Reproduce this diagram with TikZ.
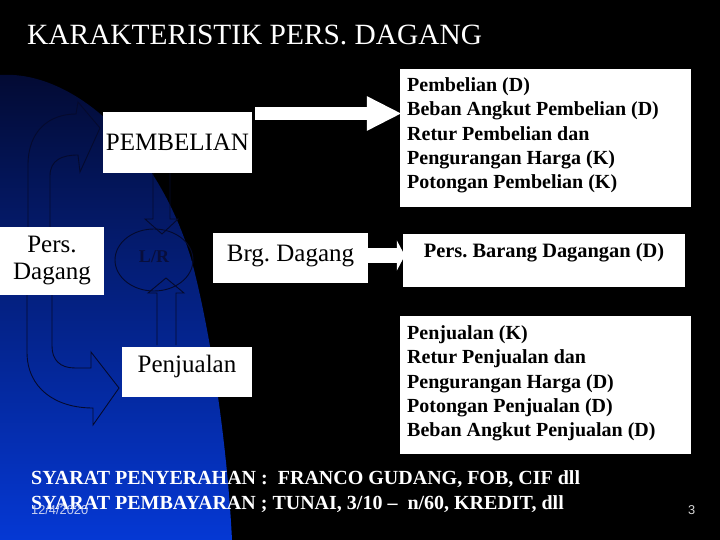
\documentclass[tikz,border=0pt]{standalone}
\usepackage{fontspec}
\setmainfont{Liberation Serif}
\newfontfamily\sansf{Liberation Sans}
\usetikzlibrary{shapes.geometric,arrows.meta,calc}
\definecolor{navyline}{RGB}{5,10,45}
\definecolor{lrtext}{RGB}{8,14,60}
\definecolor{blobtop}{RGB}{3,10,50}
\definecolor{blobmid}{RGB}{12,46,190}
\definecolor{blobbot}{RGB}{5,56,212}
\definecolor{datec}{RGB}{200,208,240}
\definecolor{pagec}{RGB}{215,215,215}
\frenchspacing
\begin{document}
\begin{tikzpicture}[x=1pt,y=-1pt,
  wbox/.style={fill=white, draw=none, inner sep=0pt},
  boxtxt/.style={font=\rmfamily\fontsize{25}{27}\selectfont, text=black},
  listtxt/.style={font=\rmfamily\bfseries\fontsize{20}{24.4}\selectfont, align=left, anchor=north west, inner sep=0pt, text=black},
  blockout/.style={draw=navyline, line width=0.9pt},
  bottxtstyle/.style={anchor=base west, inner sep=0pt, text=white, font=\rmfamily\bfseries\fontsize{20}{24}\selectfont}
]
\useasboundingbox (0,0) rectangle (720,540);
\fill[black] (0,0) rectangle (720,540);
\shade[top color=blobtop, middle color=blobmid, bottom color=blobbot]
  (0,540) -- (0,75) .. controls (75,70) and (160,150) .. (192,262)
  .. controls (210,330) and (227,440) .. (232,540) -- cycle;

% title
\node[anchor=base west, inner sep=0pt, text=white, font=\rmfamily\fontsize{29.4}{32}\selectfont] (title) at (27,45) {KARAKTERISTIK PERS. DAGANG};

% block arrows (outlined)
\draw[blockout] (28,228) -- (28,165) .. controls (28,130) and (50,114) .. (76,114) -- (78,102) -- (100,128) -- (80,172) -- (78,155) .. controls (62,155) and (50,160) .. (50,176) -- (50,228) -- cycle;
\draw[blockout] (27,294) -- (27,352) .. controls (27,388) and (55,408) .. (93,408) -- (93,425) -- (119,388) -- (91,352) -- (91,368) -- (75,368) .. controls (60,368) and (52,360) .. (52,346) -- (52,294) -- cycle;
\draw[blockout] (153,173) -- (153,219) -- (145,219) -- (162,234) -- (178,219) -- (170,219) -- (170,173);
\draw[blockout] (157,345) -- (157,293) -- (148,293) -- (166,278) -- (184,293) -- (176,293) -- (176,345);

% boxes
\node[wbox, boxtxt, minimum width=149pt, minimum height=61pt, text height=17pt, text depth=0pt] (pemb) at (177.5,142.5) {PEMBELIAN};
\node[wbox, boxtxt, minimum width=104pt, minimum height=68pt, align=center] (persd) at (52,261) {Pers.\\Dagang};
\node[wbox, boxtxt, minimum width=155pt, minimum height=50pt, text height=17pt, text depth=11pt] (brg) at (290.5,258) {Brg. Dagang};
\node[wbox, boxtxt, minimum width=130pt, minimum height=50pt, text height=17pt, text depth=17pt] (penj) at (187,372) {Penjualan};
\node[ellipse, draw=navyline, line width=0.9pt, minimum width=78pt, minimum height=62pt, inner sep=0pt,
  font=\rmfamily\bfseries\fontsize{18}{20}\selectfont, text=lrtext, text height=13pt, text depth=9pt] (lr) at (154,260) {L/R};

\node[wbox, minimum width=291pt, minimum height=138pt] (topb) at (545.5,138) {};
\node[listtxt] (toptxt) at (407,77.2) {Pembelian (D)\\Beban Angkut Pembelian (D)\\Retur Pembelian dan\\Pengurangan Harga (K)\\Potongan Pembelian (K)};
\node[wbox, minimum width=282pt, minimum height=53pt, font=\rmfamily\bfseries\fontsize{20.4}{24}\selectfont, text height=13.5pt, text depth=20.5pt] (persb) at (544,260.5) {Pers. Barang Dagangan (D)};
\node[wbox, minimum width=291pt, minimum height=138pt] (botb) at (545.5,385) {};
\node[listtxt] (bottxt) at (407,325.2) {Penjualan (K)\\Retur Penjualan dan\\Pengurangan Harga (D)\\Potongan Penjualan (D)\\Beban Angkut Penjualan (D)};

% white arrows
\draw[white, line width=13pt, -{Triangle[length=35pt,width=32pt]}] ([xshift=3pt]pemb.east |- 0,113.5) -- ([xshift=2pt]topb.west |- 0,113.5);
\draw[white, line width=15pt, -{Triangle[length=8pt,width=30pt]}] (brg.east |- 0,255.5) -- ([xshift=2pt]persb.west |- 0,255.5);

% bottom texts
\node[bottxtstyle] (sy1) at (31,484) {SYARAT PENYERAHAN :\ \ FRANCO GUDANG, FOB, CIF dll};
\node[bottxtstyle] (sy2) at (31,509) {SYARAT PEMBAYARAN ; TUNAI, 3/10 –\ \ n/60, KREDIT, dll};
\node[anchor=base west, inner sep=0pt, text=datec, font=\sansf\fontsize{12.8}{14}\selectfont] (date) at (31,514) {12/4/2020};
\node[anchor=base west, inner sep=0pt, text=pagec, font=\sansf\fontsize{12.8}{14}\selectfont] (pg) at (688,514) {3};
\end{tikzpicture}
\end{document}
